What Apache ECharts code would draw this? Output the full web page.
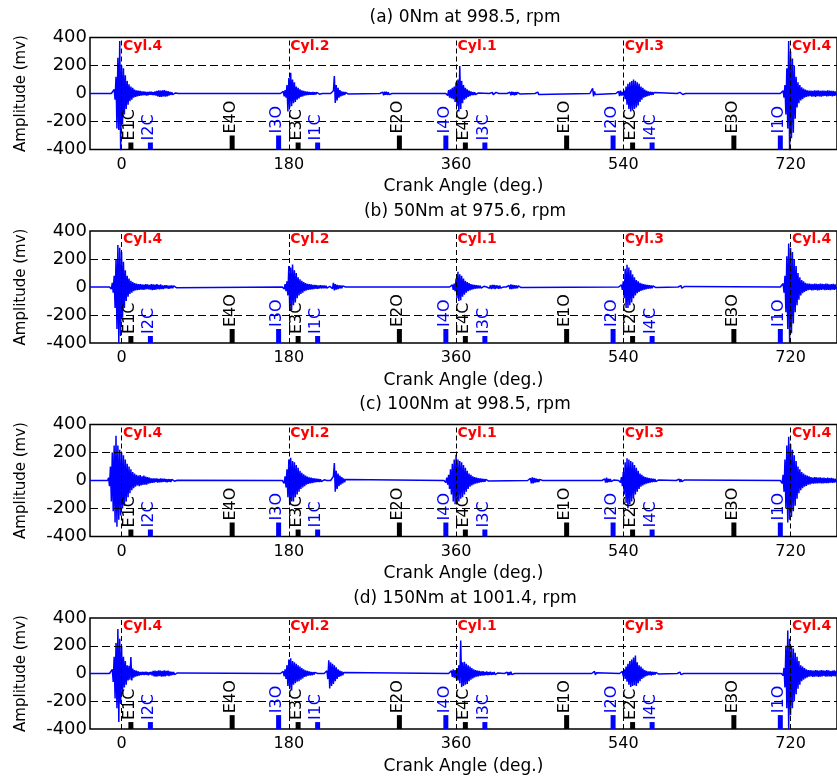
<!DOCTYPE html>
<html><head><meta charset="utf-8">
<script src="https://cdn.jsdelivr.net/npm/echarts@6/dist/echarts.min.js"></script>
<style>html,body{margin:0;padding:0;background:#fff}#c{width:837px;height:776px}</style>
</head><body><div id="c"></div>
<script>
const panelTitles = ['(a) 0Nm at 998.5, rpm', '(b) 50Nm at 975.6, rpm', '(c) 100Nm at 998.5, rpm', '(d) 150Nm at 1001.4, rpm'];
const xTicks = [0, 180, 360, 540, 720];
const yTicks = [-400, -200, 0, 200, 400];
const cylAngles = [0, 180, 360, 540, 720];
const cylNames = ['Cyl.4', 'Cyl.2', 'Cyl.1', 'Cyl.3', 'Cyl.4'];
const valveNames = ['E1C','I2C','E4O','I3O','E3C','I1C','E2O','I4O','E4C','I3C','E1O','I2O','E2C','I4C','E3O','I1O'];
const valveAngles = [10, 31, 119, 169, 190, 211, 299, 349, 370, 391, 479, 529, 550, 571, 659, 709];
const valveTops = [-350, -350, -300, -300, -350, -350, -300, -300, -350, -350, -300, -300, -350, -350, -300, -300];

// vibration signal: bursts sampled every 1 deg, starting at the given crank angle
const sigA_starts = [-10, 172, 226, 279, 350, 397, 416, 446, 505, 533, 599, 710];
const sigA_bursts = [
 [6,-12,30,-45,120,-250,255,-260,375,-410, 200,-220,180,-150,130,-110,90,-80,65,-55, 50,-45,40,-30,28,-25,22,-20,20,-16, 18,-15,14,-13,15,-12,12,-14,11,-12, 13,-10,12,-11,10,-12,14,-15,18,-20, 22,-24,20,-25,22,-20,24,-22,18,-20, 16,-15,12,-10,8,-8,6,-5,4,-3, 2],
 [5,-10,15,-20,25,-30,60,-128,110,-100, 148,-90,100,-70,80,-60,50,-45,40,-35, 30,-25,22,-20,18,-15,15,-12,12,-10, 10,-9,9,-8,10,-8,9,-7,8,-6, 6,-5,4,-3],
 [5,-10,20,124,-68,60,-50,40,-30,25,-20,15,-15,12,-10,8,-6,5,-4],
 [5,-8,10,-12,12,-10,12,-10,8,-8,6,-5],
 [5,-15,25,-30,30,-35,40,-40,50,-60, 80,-90,100,-128,196,-110,90,-70,60,-45, 40,-35,30,-25,20,-18,15,-12,10,-10, 8,-8,6,-5,4],
 [4,-6,8,-8,6,-7,8,-6,4],
 [5,-8,10,-12,12,-10,10,-12,10,-8,8,-6,5,-4],
 [5,-10,10,-8,6],
 [5,-10,37,-20,15,-8,5],
 [5,-10,15,-18,20,-15,12,-15,20,-40, 50,-80,70,-110,80,-128,90,-120,100,-110, 90,-100,80,-85,70,-60,50,-45,40,-30, 28,-25,20,-18,15,-14,12,-10,10,-8, 7,-5],
 [4,-8,8,-6,8,-7,5,-4],
 [5,-10,20,-30,60,-150,180,-250,375,-415, 300,-320,250,-280,200,-180,120,-100,80,-70, 60,-50,45,-40,35,-30,28,-25,22,-20, 20,-18,20,-22,18,-20,22,-25,20,-18, 22,-20,18,-22,20,-18,20,-16,18,-20, 22,-18,20,-16,18,-20,18,-16,15,-14]
];
const sigB_starts = [-12, 174, 226, 354, 395, 415, 536, 600, 710];
const sigB_bursts = [
 [10,-15,30,-40,80,-150,200,-300,300,-400, 280,-350,250,-220,180,-150,120,-100,80,-70, 60,-50,45,-40,35,-30,28,-25,25,-22, 20,-20,20,-18,18,-20,16,-18,20,-15, 18,-16,15,-18,20,-22,18,-20,16,-18, 20,-15,14,-16,18,-14,12,-14,12,-10, 12,-10,10,-12,10,-8,10,-8,8,-6, 6,-5,4],
 [10,-15,20,-30,40,-60,150,-160,140,-165, 160,-130,120,-110,100,-80,70,-60,55,-50, 45,-40,35,-30,28,-25,22,-20,20,-18, 18,-16,15,-15,14,-12,12,-12,10,-10, 12,-10,10,-8,10,-8,8,-8,6,-6, 5,-4],
 [8,-12,30,-25,20,-18,15,-14,12,-10,10,-8,8,-6,5],
 [8,-12,15,-20,25,-30,60,-80,108,-100, 90,-95,80,-70,60,-55,45,-40,35,-30, 28,-25,20,-18,16,-15,14,-12,12,-10, 10,-8,8,-8,6,-6,5,-4,3],
 [5,-10,12,-15,15,-12,14,-15,12,-10,10,-12,10,-8,6,-5],
 [5,-8,12,-15,18,-15,14,-12,12,-10,10,-8,8,-6,5,-4],
 [8,-12,15,-20,40,-80,130,-150,158,-150, 140,-130,120,-110,90,-80,70,-60,50,-45, 40,-35,30,-28,25,-22,20,-18,16,-15, 14,-12,12,-10,10,-8,8,-6,5,-4],
 [5,-8,10,-8,6,-5,4],
 [8,-12,25,-40,80,-180,220,-300,310,-400, 280,-330,250,-260,200,-180,150,-130,100,-90, 70,-60,50,-45,40,-35,30,-28,25,-22, 25,-20,22,-25,20,-22,25,-20,22,-24, 20,-22,25,-20,22,-18,20,-22,24,-20, 22,-20,18,-22,20,-18,22,-20,18,-16]
];
const sigC_starts = [-14, 174, 226, 348, 438, 518, 536, 598, 710];
const sigC_bursts = [
 [20,-40,100,-150,200,-220,250,-300,320,-330, 250,-280,220,-250,200,-200,180,-180,150,-150, 120,-120,100,-90,80,-70,60,-55,50,-45, 40,-35,35,-40,38,-35,30,-32,35,-30, 28,-30,25,-22,20,-18,15,-16,15,-14, 14,-12,15,-14,12,-13,14,-12,12,-10, 12,-10,10,-12,10,-8,8,-10,8,-6, 6,-5,4,-3,2],
 [10,-20,30,-50,80,-120,150,-176,162,-150, 140,-150,130,-120,110,-100,90,-80,70,-60, 55,-50,45,-40,35,-30,28,-25,22,-20, 20,-18,16,-15,14,-12,12,-10,10,-10, 8,-8,6,-6,5,-4,3],
 [6,-12,30,125,-80,70,-60,50,-40,35,-30,25,-20,15,-12,8,-5],
 [10,-15,20,-30,40,-60,80,-100,120,-150, 150,-170,184,-160,150,-150,140,-130,130,-120, 110,-100,90,-80,70,-60,50,-45,40,-35, 30,-28,25,-22,20,-18,16,-15,14,-12, 12,-10,10,-8,8,-6,5,-4],
 [5,-10,15,-20,22,-20,18,-15,15,-12,10,-10,8,-6,4],
 [5,-8,12,-15,20,-15,12,-10,10,-8,6,-5,4],
 [10,-15,25,-40,60,-100,130,-160,158,-198, 150,-170,140,-150,130,-120,110,-100,90,-80, 70,-60,50,-45,40,-35,30,-28,25,-22, 20,-18,16,-15,14,-12,12,-10,10,-8, 6,-5,4],
 [5,-8,10,-10,8,-8,6,-5,4],
 [10,-20,40,-80,150,-200,250,-300,313,-280, 260,-260,220,-220,180,-180,140,-130,100,-90, 80,-70,60,-55,50,-45,40,-38,35,-30, 30,-28,25,-22,20,-22,25,-20,22,-20, 20,-18,22,-20,18,-20,20,-18,16,-18, 20,-18,16,-15,18,-16,15,-14,12,-12]
];
const sigD_starts = [-12, 172, 219, 353, 413, 507, 537, 599, 711];
const sigD_bursts = [
 [5,-10,30,-60,120,-180,220,-250,320,-350, 250,-220,200,-150,120,-100,90,-80,60,-50, 55,-45,118,-50,35,-30,25,-22,20,-18, 15,-15,12,-12,12,-10,10,-10,12,-10, 10,-12,10,-8,12,-14,18,-20,20,-22, 18,-20,22,-18,20,-22,18,-20,22,-20, 18,-16,20,-18,15,-14,12,-10,10,-8, 6,-5,4],
 [5,-10,15,-20,30,-40,60,-90,100,-110, 110,-122,90,-80,80,-70,70,-60,60,-55, 50,-45,40,-35,30,-25,22,-20,18,-15, 15,-14,12,-12,10,-8,8,-6,5],
 [5,-10,20,-40,96,-108,80,-90,70,-75,60,-55,45,-40,30,-25,20,-18,15,-12,8,-5],
 [8,-12,20,-25,30,-30,25,-35,40,-50, 60,-70,237,-98,80,-90,85,-80,70,-75, 60,-55,50,-45,40,-35,30,-28,25,-22, 20,-20,18,-16,15,-15,16,-14,12,-12, 15,-12,10,-10,12,-10,8,-8,10,-8, 6,-5,4,-3],
 [5,-8,10,-12,10,-10,12,-8,6,-4],
 [5,-12,15,-10,5],
 [5,-10,15,-20,30,-40,50,-60,70,-80, 90,-98,100,-90,115,-85,130,-90,80,-70, 60,-55,50,-40,35,-30,25,-20,18,-15, 14,-12,15,-14,12,-10,10,-8,8,-6, 5,-4],
 [5,-10,10,-8,6,-4],
 [8,-15,40,-100,200,-250,310,-400,250,-300, 200,-250,180,-200,150,-150,120,-110,90,-80, 60,-55,50,-45,40,-35,30,-28,25,-22, 25,-20,22,-25,20,-22,25,-20,22,-24, 20,-22,25,-20,22,-18,20,-22,24,-20, 22,-20,18,-22,20,-18,22,-20,18]
];

const X_MIN = -34, X_MAX = 770;
function buildSignal(starts, bursts) {
  const pts = [[X_MIN, 0]];
  for (let b = 0; b < starts.length; b++) {
    const s = starts[b], v = bursts[b];
    pts.push([s - 1, 0]);
    for (let i = 0; i < v.length; i++) pts.push([s + i, v[i]]);
    pts.push([s + v.length, 0]);
  }
  if (pts[pts.length - 1][0] < X_MAX) pts.push([X_MAX, 0]);
  return pts;
}
const signals = [
  buildSignal(sigA_starts, sigA_bursts),
  buildSignal(sigB_starts, sigB_bursts),
  buildSignal(sigC_starts, sigC_bursts),
  buildSignal(sigD_starts, sigD_bursts)
];

const FONT = 'DejaVu Sans';
const gridTops = [37.5, 231, 424.5, 618];
const gridH = 112;
const chart = echarts.init(document.getElementById('c'), null, {renderer: 'canvas'});

const grids = [], xAxes = [], yAxes = [], titles = [], series = [];
gridTops.forEach((t, i) => {
  grids.push({left: 90, top: t, width: 750, height: gridH, show: true, borderColor: '#000', borderWidth: 1.5, backgroundColor: 'transparent', containLabel: false});
  titles.push({text: panelTitles[i], left: 465, textAlign: 'center', top: t - 28, padding: 0,
    textStyle: {fontFamily: FONT, fontSize: 17, fontWeight: 'normal', color: '#000'}});
  xAxes.push({gridIndex: i, type: 'value', min: X_MIN, max: X_MAX,
    axisLine: {show: false, onZero: false}, axisTick: {show: false}, splitLine: {show: false},
    axisLabel: {customValues: xTicks, color: '#000', fontFamily: FONT, fontSize: 16, margin: 7},
    name: 'Crank Angle (deg.)', nameLocation: 'middle', nameGap: 29,
    nameTextStyle: {fontFamily: FONT, fontSize: 17, color: '#000'}});
  yAxes.push({gridIndex: i, type: 'value', min: -400, max: 400, interval: 200,
    axisLine: {show: false, onZero: false}, axisTick: {show: false}, splitLine: {show: false},
    axisLabel: {customValues: yTicks, color: '#000', fontFamily: FONT, fontSize: 18, margin: 3},
    name: 'Amplitude (mv)', nameLocation: 'middle', nameGap: 61,
    nameTextStyle: {fontFamily: FONT, fontSize: 15, color: '#000'}});
  series.push({type: 'line', xAxisIndex: i, yAxisIndex: i, data: signals[i], showSymbol: false, symbol: 'none',
    sampling: false, lineStyle: {color: '#0000ff', width: 1.5, join: 'bevel'}, z: 2, silent: true,
    markLine: {silent: true, symbol: ['none', 'none'], label: {show: false}, animation: false,
      data: [
        {yAxis: 200, lineStyle: {color: '#000', width: 1, type: [8, 4]}},
        {yAxis: -200, lineStyle: {color: '#000', width: 1, type: [8, 4]}}
      ].concat(cylAngles.map(a => ({xAxis: a, lineStyle: {color: '#000', width: 1, type: [5, 3]}})))
    }});
  series.push({type: 'custom', xAxisIndex: i, yAxisIndex: i, silent: true, z: 4,
    data: valveAngles.map((a, k) => [a, valveTops[k], k]),
    renderItem: (params, api) => {
      const k = api.value(2);
      const p0 = api.coord([api.value(0), -400]);
      const p1 = api.coord([api.value(0), api.value(1)]);
      const col = valveNames[k][0] === 'E' ? '#000000' : '#0000ff';
      return {type: 'group', children: [
        {type: 'rect', shape: {x: p0[0] - 2.5, y: p1[1], width: 5, height: p0[1] - p1[1]}, style: {fill: col}},
        {type: 'text', x: p1[0] - 1.5, y: p1[1] - 2, rotation: Math.PI / 2,
          style: {text: valveNames[k], fill: col, fontFamily: FONT, fontSize: 16,
            textAlign: 'left', textVerticalAlign: 'middle', align: 'left', verticalAlign: 'middle'}}
      ]};
    }});
  series.push({type: 'custom', xAxisIndex: i, yAxisIndex: i, silent: true, z: 5,
    data: cylAngles.map((a, k) => [a, 400, k]),
    renderItem: (params, api) => {
      const k = api.value(2);
      const p = api.coord([api.value(0), api.value(1)]);
      return {type: 'text', x: p[0] + 1.5, y: p[1] + 1.5,
        style: {text: cylNames[k], fill: '#ff0000', fontFamily: FONT, fontSize: 14, fontWeight: 'bold',
          textAlign: 'left', textVerticalAlign: 'top', align: 'left', verticalAlign: 'top'}};
    }});
});

chart.setOption({animation: false, backgroundColor: '#fff', title: titles, grid: grids, xAxis: xAxes, yAxis: yAxes, series: series});
</script></body></html>
